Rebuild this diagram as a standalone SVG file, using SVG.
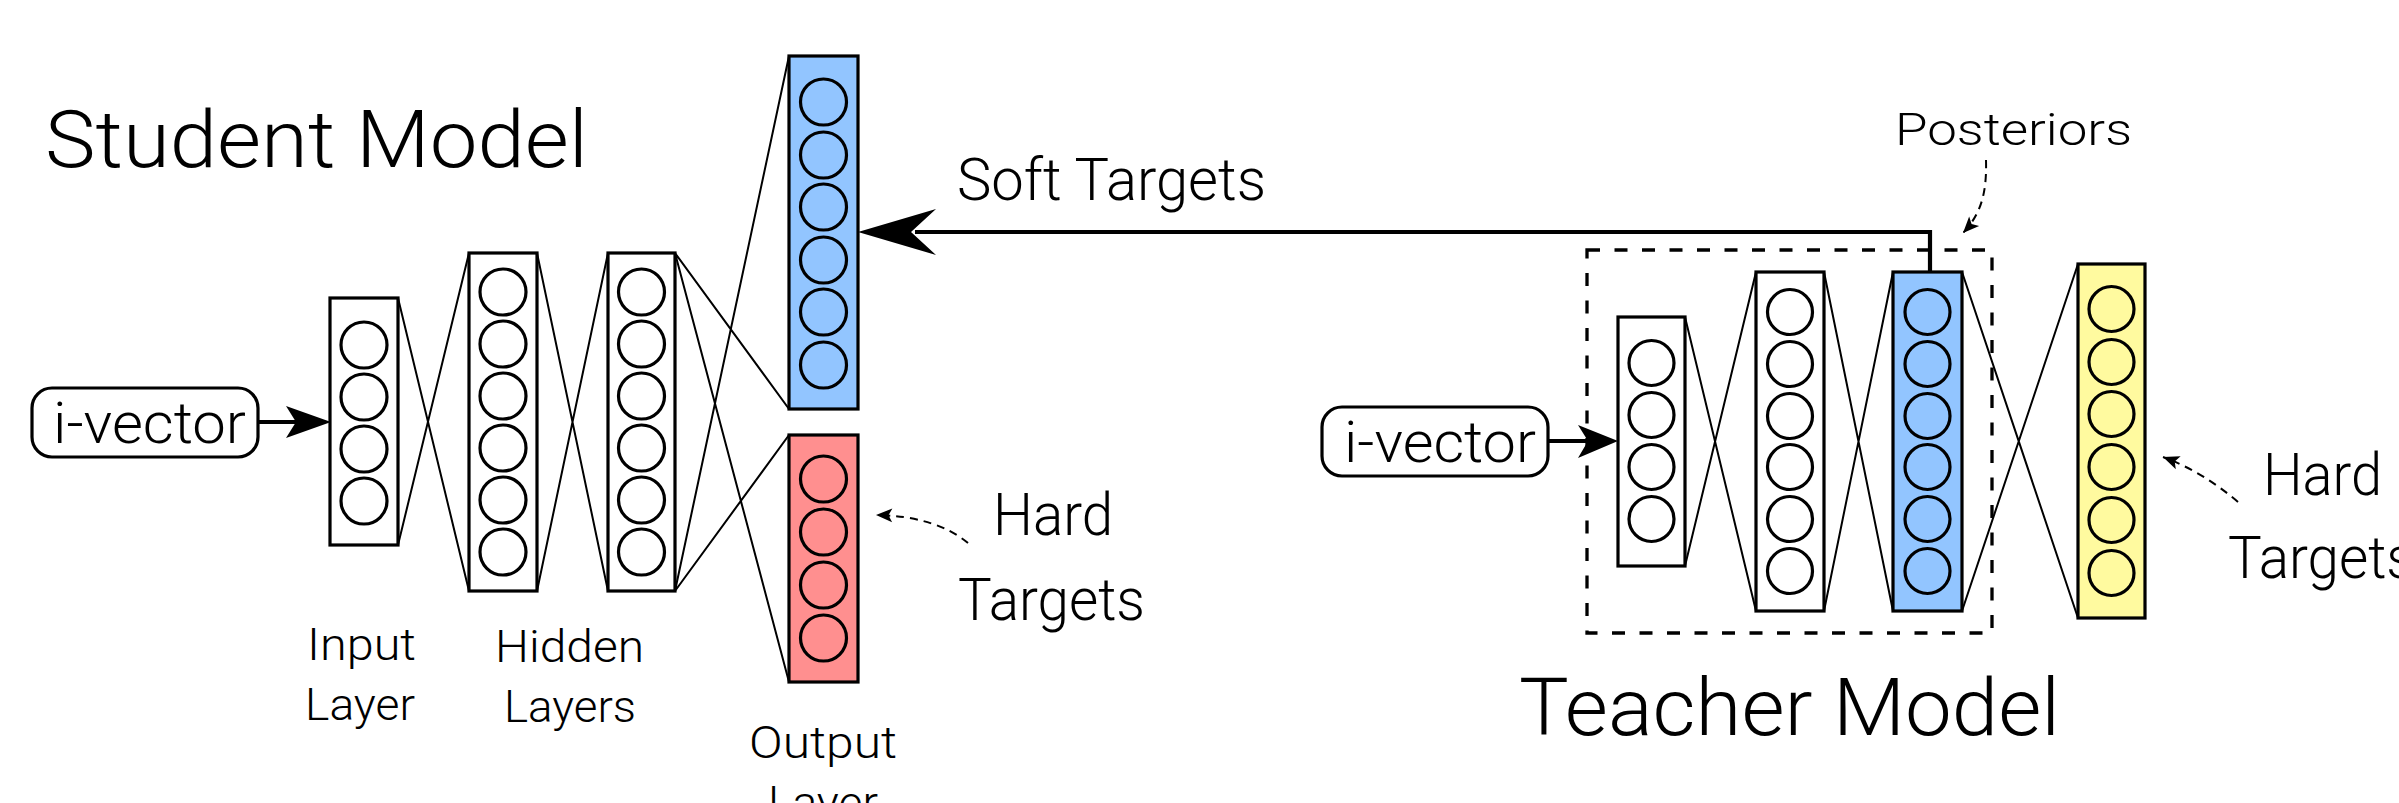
<svg xmlns="http://www.w3.org/2000/svg" width="2399" height="803" viewBox="0 0 2399 803">
<style>
  .t { font-family: Roboto, "Noto Sans", "Liberation Sans", sans-serif; font-weight: 300; fill: #000; }
  .layer { stroke: #000; stroke-width: 3.2; }
  .white { fill: #fff; }
  .blue { fill: #92C5FF; }
  .red { fill: #FF8F8F; }
  .yellow { fill: #FFFA9F; }
  .n { stroke: #000; stroke-width: 3.2; fill: none; }
  .w { stroke: #000; stroke-width: 2; fill: none; }
  .box { fill: #fff; stroke: #000; stroke-width: 3.2; }
  .dot { stroke: #000; stroke-width: 2; fill: none; stroke-dasharray: 8 6; }
</style>
<defs>
  <marker id="small" markerUnits="userSpaceOnUse" markerWidth="20" markerHeight="16" refX="14" refY="6" orient="auto" viewBox="0 0 16 12">
    <path d="M14,6 L1,0.5 L4,6 L1,11.5 Z" fill="#000"/>
  </marker>
</defs>
<rect width="2399" height="803" fill="#fff"/>

<g id="connectors">
  <!-- student weights -->
  <path class="w" d="M398,298 L469,591 M398,545 L469,253"/>
  <path class="w" d="M537,253 L608,591 M537,591 L608,253"/>
  <path class="w" d="M675,253 L789,409 M675,253 L789,682 M675,591 L789,56 M675,591 L789,435"/>
  <!-- teacher weights -->
  <path class="w" d="M1685,317 L1756,611 M1685,566 L1756,272"/>
  <path class="w" d="M1824,272 L1893,611 M1824,611 L1893,272"/>
  <path class="w" d="M1962,272 L2078,618 M1962,611 L2078,264"/>
  <!-- i-vector arrows -->
  <path d="M259,422 H300" stroke="#000" stroke-width="4" fill="none"/>
  <path d="M331,422 L286,406 L296,422 L286,438 Z" fill="#000"/>
  <path d="M1548,441 H1590" stroke="#000" stroke-width="4" fill="none"/>
  <path d="M1618,441 L1578,425 L1588,441 L1578,458 Z" fill="#000"/>
  <!-- soft targets -->
  <path d="M915,232 H1930 V272" stroke="#000" stroke-width="4.2" fill="none"/>
  <path d="M858,232 L936,209 L911,232 L936,255 Z" fill="#000"/>
  <!-- dotted pointers -->
  <path class="dot" d="M968,543 Q935,516 876,515" marker-end="url(#small)"/>
  <path class="dot" d="M2238,502 Q2203,472 2163,457" marker-end="url(#small)"/>
  <path class="dot" d="M1986,160 C1987,195 1980,215 1963,233" marker-end="url(#small)"/>
</g>

<g id="teacher-frame">
  <rect x="1587" y="250" width="405" height="383" fill="none" stroke="#000" stroke-width="3.3" stroke-dasharray="13 14.5"/>
</g>

<g id="student-title"><text class="t" x="45" y="167" font-size="80" textLength="543" lengthAdjust="spacingAndGlyphs">Student Model</text></g>
<g id="teacher-title"><text class="t" x="1519" y="735" font-size="80" textLength="541" lengthAdjust="spacingAndGlyphs">Teacher Model</text></g>

<g id="student-ivector">
  <rect class="box" x="32" y="388" width="226" height="69" rx="20"/>
  <text class="t" x="53" y="443" font-size="58" textLength="193" lengthAdjust="spacingAndGlyphs">i-vector</text>
</g>
<g id="teacher-ivector">
  <rect class="box" x="1322" y="407" width="226" height="69" rx="20"/>
  <text class="t" x="1344" y="462" font-size="58" textLength="192" lengthAdjust="spacingAndGlyphs">i-vector</text>
</g>

<g id="student-input">
  <rect class="layer white" x="330" y="298" width="68" height="247"/>
  <circle class="n" cx="364" cy="345" r="23"/><circle class="n" cx="364" cy="397" r="23"/>
  <circle class="n" cx="364" cy="449" r="23"/><circle class="n" cx="364" cy="501" r="23"/>
</g>
<g id="student-hidden1">
  <rect class="layer white" x="469" y="253" width="68" height="338"/>
  <circle class="n" cx="503" cy="292" r="23"/><circle class="n" cx="503" cy="344" r="23"/>
  <circle class="n" cx="503" cy="396" r="23"/><circle class="n" cx="503" cy="448" r="23"/>
  <circle class="n" cx="503" cy="500" r="23"/><circle class="n" cx="503" cy="552" r="23"/>
</g>
<g id="student-hidden2">
  <rect class="layer white" x="608" y="253" width="67" height="338"/>
  <circle class="n" cx="641.5" cy="292" r="23"/><circle class="n" cx="641.5" cy="344" r="23"/>
  <circle class="n" cx="641.5" cy="396" r="23"/><circle class="n" cx="641.5" cy="448" r="23"/>
  <circle class="n" cx="641.5" cy="500" r="23"/><circle class="n" cx="641.5" cy="552" r="23"/>
</g>
<g id="student-soft-output">
  <rect class="layer blue" x="789" y="56" width="69" height="353"/>
  <circle class="n" cx="823.5" cy="102" r="23"/><circle class="n" cx="823.5" cy="155" r="23"/>
  <circle class="n" cx="823.5" cy="207" r="23"/><circle class="n" cx="823.5" cy="260" r="23"/>
  <circle class="n" cx="823.5" cy="312" r="23"/><circle class="n" cx="823.5" cy="365" r="23"/>
</g>
<g id="student-hard-output">
  <rect class="layer red" x="789" y="435" width="69" height="247"/>
  <circle class="n" cx="823.5" cy="479" r="23"/><circle class="n" cx="823.5" cy="532" r="23"/>
  <circle class="n" cx="823.5" cy="585" r="23"/><circle class="n" cx="823.5" cy="638" r="23"/>
</g>

<g id="teacher-input">
  <rect class="layer white" x="1618" y="317" width="67" height="249"/>
  <circle class="n" cx="1651.5" cy="363" r="22.5"/><circle class="n" cx="1651.5" cy="415" r="22.5"/>
  <circle class="n" cx="1651.5" cy="467" r="22.5"/><circle class="n" cx="1651.5" cy="519" r="22.5"/>
</g>
<g id="teacher-hidden">
  <rect class="layer white" x="1756" y="272" width="68" height="339"/>
  <circle class="n" cx="1790" cy="312" r="22.5"/><circle class="n" cx="1790" cy="364" r="22.5"/>
  <circle class="n" cx="1790" cy="416" r="22.5"/><circle class="n" cx="1790" cy="467" r="22.5"/>
  <circle class="n" cx="1790" cy="519" r="22.5"/><circle class="n" cx="1790" cy="571" r="22.5"/>
</g>
<g id="teacher-posteriors">
  <rect class="layer blue" x="1893" y="272" width="69" height="339"/>
  <circle class="n" cx="1927.5" cy="312" r="22.5"/><circle class="n" cx="1927.5" cy="364" r="22.5"/>
  <circle class="n" cx="1927.5" cy="416" r="22.5"/><circle class="n" cx="1927.5" cy="467" r="22.5"/>
  <circle class="n" cx="1927.5" cy="519" r="22.5"/><circle class="n" cx="1927.5" cy="571" r="22.5"/>
</g>
<g id="teacher-output">
  <rect class="layer yellow" x="2078" y="264" width="67" height="354"/>
  <circle class="n" cx="2111.5" cy="309" r="22.5"/><circle class="n" cx="2111.5" cy="362" r="22.5"/>
  <circle class="n" cx="2111.5" cy="414" r="22.5"/><circle class="n" cx="2111.5" cy="467" r="22.5"/>
  <circle class="n" cx="2111.5" cy="520" r="22.5"/><circle class="n" cx="2111.5" cy="573" r="22.5"/>
</g>

<g id="labels">
  <text class="t" x="307" y="660" font-size="45" textLength="109" lengthAdjust="spacingAndGlyphs">Input</text>
  <text class="t" x="305" y="720" font-size="45" textLength="110" lengthAdjust="spacingAndGlyphs">Layer</text>
  <text class="t" x="495" y="662" font-size="45" textLength="149" lengthAdjust="spacingAndGlyphs">Hidden</text>
  <text class="t" x="504" y="722" font-size="45" textLength="132" lengthAdjust="spacingAndGlyphs">Layers</text>
  <text class="t" x="749" y="758" font-size="45" textLength="148" lengthAdjust="spacingAndGlyphs">Output</text>
  <text class="t" x="768" y="818" font-size="45" textLength="110" lengthAdjust="spacingAndGlyphs">Layer</text>
  <text class="t" x="957" y="200" font-size="60" textLength="309" lengthAdjust="spacingAndGlyphs">Soft Targets</text>
  <text class="t" x="1895" y="145" font-size="44" textLength="237" lengthAdjust="spacingAndGlyphs">Posteriors</text>
  <text class="t" x="993" y="535" font-size="60" textLength="120" lengthAdjust="spacingAndGlyphs">Hard</text>
  <text class="t" x="958" y="620" font-size="60" textLength="187" lengthAdjust="spacingAndGlyphs">Targets</text>
  <text class="t" x="2263" y="495" font-size="60" textLength="119" lengthAdjust="spacingAndGlyphs">Hard</text>
  <text class="t" x="2228" y="578" font-size="60" textLength="187" lengthAdjust="spacingAndGlyphs">Targets</text>
</g>
</svg>
